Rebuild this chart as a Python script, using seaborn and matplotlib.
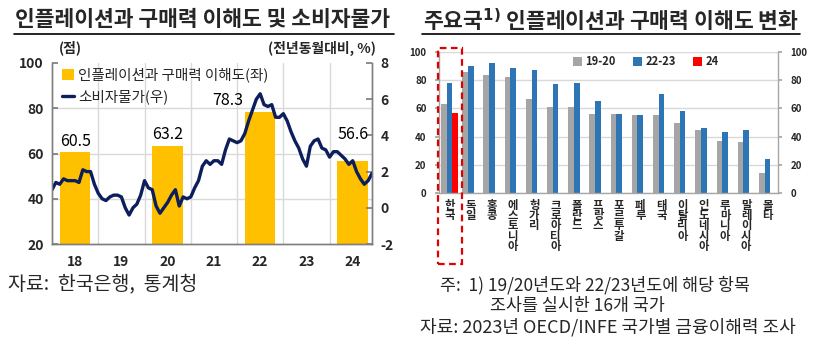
import numpy as np
import pandas as pd
import seaborn as sns
import matplotlib.pyplot as plt
import matplotlib.transforms as mtransforms
from matplotlib.patches import Patch, Rectangle
from matplotlib.lines import Line2D

# ---------------- data ----------------
bar_years = [2018, 2020, 2022, 2024]
bar_values = [60.5, 63.2, 78.3, 56.6]
year_labels = ["18", "19", "20", "21", "22", "23", "24"]
cpi_start_year = 2018
cpi_values = [
    1.0, 1.4, 1.3, 1.6, 1.5, 1.5, 1.5, 1.4, 2.1, 2.0, 2.0, 1.3,
    0.8, 0.5, 0.4, 0.6, 0.7, 0.7, 0.6, 0.0, -0.4, 0.0, 0.2, 0.7,
    1.5, 1.1, 1.0, 0.1, -0.3, 0.0, 0.3, 0.7, 1.0, 0.1, 0.6, 0.5,
    0.6, 1.1, 1.5, 2.3, 2.6, 2.4, 2.6, 2.6, 2.4, 3.2, 3.8, 3.7,
    3.6, 3.7, 4.1, 4.8, 5.4, 6.0, 6.3, 5.7, 5.6, 5.7, 5.0, 5.0,
    5.2, 4.8, 4.2, 3.7, 3.3, 2.7, 2.3, 3.4, 3.7, 3.8, 3.3, 3.2,
    2.8, 3.1, 3.1, 2.9, 2.7, 2.4, 2.6, 2.0, 1.6, 1.3, 1.5, 1.9,
]

countries = ["한국", "독일", "홍콩", "에스토니아", "헝가리", "크로아티아", "폴란드", "프랑스",
             "포르투갈", "페루", "태국", "이탈리아", "인도네시아", "루마니아", "말레이시아", "몰타"]
periods = ["19-20", "22-23", "24"]
v_1920 = [63, 86, 84, 82, 67, 61, 61, 56, 56, 55, 55, 50, 45, 37, 36, 14]
v_2223 = [78, 90, 92, 89, 87, 77, 78, 65, 56, 55, 70, 58, 46, 43, 45, 24]
v_24 = [56.6] + [np.nan] * 15

YELLOW = "#FFC000"
NAVY = "#0C1E5B"
GRAY = "#A5A5A5"
BLUE = "#2E75B6"
RED = "#FF0000"
GRID = "#D9D9D9"
SPINE = "#7F7F7F"

sns.set_theme(style="white")
plt.rcParams["font.family"] = ["Noto Sans CJK KR", "DejaVu Sans"]
plt.rcParams["axes.unicode_minus"] = False

W, H = 815, 343
fig = plt.figure(figsize=(W / 100, H / 100), dpi=100)

def fx(px):
    return px / W

def fy(py):
    return 1 - py / H

# ---------------- left chart ----------------
ax1 = fig.add_axes([fx(52), fy(244), fx(320), 181 / H])
ax1.set_axisbelow(True)
df_bar = pd.DataFrame({"x": [y + 0.5 for y in bar_years], "v": bar_values})
sns.barplot(data=df_bar, x="x", y="v", native_scale=True, width=0.33,
            color=YELLOW, saturation=1, ax=ax1, edgecolor="none")

ax1b = ax1.twinx()
xs = cpi_start_year + np.arange(len(cpi_values)) / 12
sns.lineplot(x=xs, y=cpi_values, ax=ax1b, color=NAVY, lw=2.4)

n_years = len(year_labels)
ax1.set_xlim(cpi_start_year, cpi_start_year + n_years - 1 / 12)
ax1.set_ylim(20, 100)
ax1b.set_ylim(-2, 8)
ax1.set_xticks([cpi_start_year + i + 0.5 for i in range(n_years)])
ax1.set_xticklabels(year_labels, fontsize=10, fontweight="bold")
ax1.set_xticks([cpi_start_year + i for i in range(1, n_years)], minor=True)
ax1.set_yticks([20, 40, 60, 80, 100])
ax1.set_yticklabels(["20", "40", "60", "80", "100"], fontsize=10, fontweight="bold")
ax1b.set_yticks([-2, 0, 2, 4, 6, 8])
ax1b.set_yticklabels(["-2", "0", "2", "4", "6", "8"], fontsize=10, fontweight="bold")
ax1.set_xlabel("")
ax1.set_ylabel("")
ax1b.set_ylabel("")
ax1.grid(axis="x", which="minor", color=GRID, lw=1)
ax1.grid(axis="y", which="major", color=GRID, lw=1)
for gl in ax1.get_ygridlines():
    y = gl.get_ydata()[0]
    if y in (20, 100):
        gl.set_visible(False)
ax1.tick_params(axis="x", which="both", length=0, pad=8)
ax1.tick_params(axis="y", direction="in", length=4, color=SPINE, pad=6)
ax1b.tick_params(axis="y", direction="in", length=4, color=SPINE, pad=6)
for a in (ax1, ax1b):
    a.spines["top"].set_visible(False)
    for s in ("left", "right", "bottom"):
        a.spines[s].set_color(SPINE)
        a.spines[s].set_linewidth(1)

label_offsets = [(0, 2), (0, 2), (-23, 2), (0, 13)]
for x, v, (dx, dy) in zip(df_bar["x"], bar_values, label_offsets):
    tr = mtransforms.offset_copy(ax1.transData, fig=fig, x=dx, y=dy, units="points")
    ax1b.text(x, v, f"{v}", transform=tr, ha="center", va="bottom",
              fontsize=11.5, color="black", zorder=5)

leg_handles = [Patch(facecolor=YELLOW, edgecolor="none"),
               Line2D([0], [0], color=NAVY, lw=2.4)]
ax1b.legend(leg_handles, ["인플레이션과 구매력 이해도(좌)", "소비자물가(우)"],
            loc="upper left", bbox_to_anchor=(0.0, 1.03), frameon=False,
            fontsize=10.5, handlelength=0.8, handleheight=0.8, handletextpad=0.3,
            labelspacing=0.45, borderaxespad=0.3)

fig.text(fx(15), fy(20), "인플레이션과 구매력 이해도 및 소비자물가", fontsize=15.5,
         fontweight="bold", ha="left", va="center")
fig.add_artist(Line2D([fx(14), fx(394)], [fy(34), fy(34)], color="black", lw=1.2))
fig.text(fx(70), fy(48), "(점)", fontsize=10, fontweight="bold", ha="center", va="center")
fig.text(fx(376), fy(48), "(전년동월대비, %)", fontsize=10, fontweight="bold",
         ha="right", va="center")
fig.text(fx(8), fy(284), "자료:  한국은행,  통계청", fontsize=14, ha="left", va="center")

# ---------------- right chart ----------------
ax2 = fig.add_axes([fx(439), fy(193), fx(339), 141 / H])
ax2.set_axisbelow(True)
df_c = pd.DataFrame({
    "country": countries * 3,
    "period": [p for p in periods for _ in countries],
    "value": v_1920 + v_2223 + v_24,
})
sns.barplot(data=df_c, x="country", y="value", hue="period", hue_order=periods,
            palette=[GRAY, BLUE, RED], width=0.8, saturation=1, ax=ax2,
            edgecolor="none", legend=False)
ax2.set_ylim(0, 100)
ax2.set_xlim(-0.5, len(countries) - 0.5)
ax2.set_xlabel("")
ax2.set_ylabel("")
ax2.set_yticks([0, 20, 40, 60, 80, 100])
ax2.set_yticklabels(["0", "20", "40", "60", "80", "100"], fontsize=7, fontweight="bold")
ax2.set_xticks(range(len(countries)))
ax2.set_xticklabels(["\n".join(c) for c in countries], fontsize=8.2,
                    fontweight="bold", linespacing=0.74, va="top")
ax2.tick_params(axis="x", length=0, pad=4)
ax2.tick_params(axis="y", direction="out", length=3, color="#A6A6A6", pad=6,
                left=True, right=True, labelleft=True, labelright=True)
ax2.grid(axis="y", color=GRID, lw=1)
ax2.spines["top"].set_visible(False)
for s in ("left", "right", "bottom"):
    ax2.spines[s].set_color("#A6A6A6")
    ax2.spines[s].set_linewidth(1)

leg2 = [Patch(facecolor=c, edgecolor="none") for c in (GRAY, BLUE, RED)]
ax2.legend(leg2, periods, ncol=3, loc="center", bbox_to_anchor=(0.61, 0.93),
           frameon=False, prop={"size": 8, "weight": "bold"}, handlelength=0.8,
           handleheight=0.8, handletextpad=0.3, columnspacing=1.6)

trans = mtransforms.blended_transform_factory(ax2.transData, ax2.transAxes)
ax2.add_patch(Rectangle((-0.55, -0.50), 1.15, 1.53, transform=trans, fill=False,
                        edgecolor="#E00000", lw=1.6, linestyle=(0, (3, 2)),
                        clip_on=False, zorder=10))

fig.text(fx(423), fy(20), "주요국$^{\\mathbf{1)}}$ 인플레이션과 구매력 이해도 변화",
         fontsize=15.5, fontweight="bold", ha="left", va="center")
fig.add_artist(Line2D([fx(422), fx(800)], [fy(34), fy(34)], color="black", lw=1.2))

fig.text(fx(440), fy(285), "주:  1) 19/20년도와 22/23년도에 해당 항목", fontsize=12.5,
         ha="left", va="center")
fig.text(fx(490), fy(306), "조사를 실시한 16개 국가", fontsize=12.5, ha="left", va="center")
fig.text(fx(420), fy(327), "자료: 2023년 OECD/INFE 국가별 금융이해력 조사", fontsize=13,
         ha="left", va="center")

fig.savefig("out.png", dpi=100)
